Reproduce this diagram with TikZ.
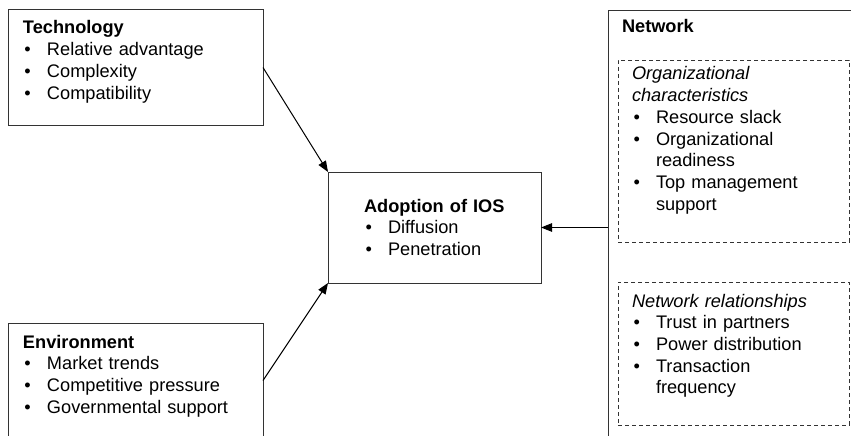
\documentclass[tikz,border=0pt]{standalone}
\usepackage{fontspec}
\setmainfont{Liberation Sans}
\usetikzlibrary{arrows.meta}
\tikzset{
  box/.style={draw=black!80, line width=1pt, anchor=north west, inner sep=0pt, outer sep=0pt},
  dbox/.style={box, line width=0.8pt, dash pattern=on 4pt off 3pt},
  txt/.style={anchor=base west, inner sep=0pt, outer sep=0pt, align=left,
    font=\fontsize{18.2}{21.7}\selectfont, text width=230pt},
  arr/.style={draw=black, line width=1pt, -{Triangle[length=11pt,width=8.5pt]}}
}
\newcommand{\bl}[1][24pt]{\makebox[#1][l]{\hspace{1.5pt}\textbullet}}
\begin{document}
\begin{tikzpicture}[x=1pt,y=-1pt]
\clip (0,0) rectangle (851,436);
% boxes
\node[box, minimum width=255pt, minimum height=115pt] (tech) at (8,10) {};
\node[box, minimum width=255pt, minimum height=115pt] (env) at (8,323) {};
\node[box, minimum width=213pt, minimum height=111pt] (adopt) at (328,172) {};
\node[box, minimum width=262pt, minimum height=433pt] (net) at (608,11) {};
\node[dbox, minimum width=231pt, minimum height=182pt] (org) at (618,60) {};
\node[dbox, minimum width=231pt, minimum height=143pt] (rel) at (618,282) {};
% texts
\node[txt] (techtxt) at (23,34) {\textbf{Technology}\\\bl Relative advantage\\\bl Complexity\\\bl Compatibility};
\node[txt] (envtxt) at (23,348) {\textbf{Environment}\\\bl Market trends\\\bl Competitive pressure\\\bl Governmental support};
\node[txt, text width=170pt] (adopttxt) at (364,212) {\textbf{Adoption of IOS}\\\bl[18pt] Diffusion\\\bl[18pt] Penetration};
\node[txt] (nettxt) at (622,33) {\textbf{Network}};
\node[txt, text width=215pt] (orgtxt) at (632,80) {\textit{Organizational}\\\textit{characteristics}\\\bl Resource slack\\\bl Organizational\\\hspace*{24pt}readiness\\\bl Top management\\\hspace*{24pt}support};
\node[txt, text width=215pt] (reltxt) at (632,307) {\textit{Network relationships}\\\bl Trust in partners\\\bl Power distribution\\\bl Transaction\\\hspace*{24pt}frequency};
% arrows
\draw[arr] (tech.east) -- (adopt.north west);
\draw[arr] (env.east) -- (adopt.south west);
\draw[arr] (net.west) -- (adopt.east);
\end{tikzpicture}
\end{document}
